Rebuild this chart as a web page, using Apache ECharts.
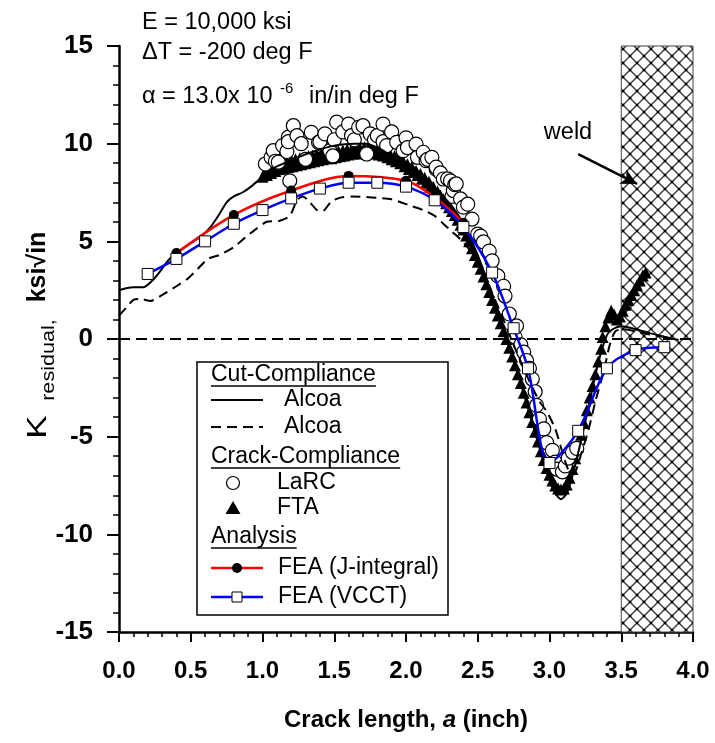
<!DOCTYPE html>
<html>
<head>
<meta charset="utf-8">
<script src="https://cdn.jsdelivr.net/npm/echarts@6/dist/echarts.min.js"></script>
<style>
  html, body { margin: 0; padding: 0; background: #fff; }
  #chart { width: 715px; height: 743px; }
</style>
</head>
<body>
<div id="chart"></div>
<script>
// Residual stress intensity factor vs crack length

// Cut-compliance (Alcoa), solid curve [a, K]
const alcoaSolid = [
  [0.00, 2.50], [0.05, 2.60], [0.10, 2.65], [0.17, 2.65], [0.22, 2.90], [0.28, 3.40],
  [0.34, 4.00], [0.40, 4.40], [0.46, 4.70], [0.52, 5.00], [0.58, 5.30], [0.64, 5.75],
  [0.70, 6.40], [0.75, 7.00], [0.80, 7.30], [0.86, 7.50], [0.92, 7.80], [1.00, 8.30],
  [1.09, 8.80], [1.20, 9.15], [1.30, 9.45], [1.40, 9.70], [1.50, 9.90], [1.64, 10.0],
  [1.72, 10.0], [1.83, 9.70], [1.90, 9.35], [2.00, 9.05], [2.08, 8.60], [2.18, 7.90],
  [2.26, 7.30], [2.32, 6.80], [2.40, 5.90], [2.50, 4.30], [2.60, 2.20], [2.70, 0.00],
  [2.80, -2.30], [2.90, -4.80], [2.98, -6.80], [3.04, -7.90], [3.08, -8.20], [3.12, -7.90],
  [3.16, -7.00], [3.22, -5.20], [3.28, -3.20], [3.34, -1.20], [3.40, 0.20], [3.44, 0.50],
  [3.50, 0.65], [3.60, 0.50], [3.70, 0.30], [3.80, 0.12], [3.90, -0.05]
];

// Cut-compliance (Alcoa), dashed curve [a, K]
const alcoaDashed = [
  [0.00, 1.20], [0.05, 1.60], [0.10, 2.00], [0.15, 2.05], [0.22, 1.95], [0.30, 2.25],
  [0.40, 2.70], [0.48, 3.10], [0.55, 3.60], [0.62, 4.10], [0.70, 4.30], [0.80, 4.70],
  [0.88, 5.20], [0.95, 5.60], [1.03, 6.00], [1.12, 6.05], [1.19, 6.30], [1.24, 7.10],
  [1.28, 7.30], [1.33, 7.00], [1.38, 6.60], [1.42, 6.55], [1.48, 7.05], [1.55, 7.25],
  [1.62, 7.30], [1.76, 7.25], [1.90, 7.15], [2.04, 6.80], [2.12, 6.60], [2.20, 6.30],
  [2.26, 5.90], [2.32, 5.50], [2.38, 5.10], [2.46, 4.40], [2.55, 3.20], [2.65, 1.50],
  [2.75, -0.30], [2.85, -2.00], [2.93, -3.20], [2.98, -3.70], [3.04, -4.60], [3.09, -5.80],
  [3.12, -6.50], [3.15, -6.90], [3.18, -6.80], [3.22, -5.90], [3.27, -4.70], [3.32, -3.20],
  [3.38, -1.60], [3.42, -0.30], [3.46, 0.40], [3.52, 0.50], [3.62, 0.35], [3.72, 0.20],
  [3.85, 0.05]
];

// Crack-compliance (LaRC), open circles [a, K]
const larc = [
  [1.02, 8.96], [1.06, 9.30], [1.075, 9.64], [1.09, 9.10], [1.11, 9.05], [1.14, 9.90],
  [1.17, 9.60], [1.18, 10.33], [1.18, 10.10], [1.19, 8.10], [1.215, 10.92], [1.24, 10.41],
  [1.27, 10.00], [1.30, 9.20], [1.34, 10.58], [1.39, 10.07], [1.40, 10.10], [1.435, 10.50],
  [1.47, 9.64], [1.49, 9.37], [1.50, 10.20], [1.517, 11.10], [1.56, 10.60], [1.60, 11.00],
  [1.62, 10.41], [1.64, 10.20], [1.67, 10.84], [1.70, 10.92], [1.726, 9.47], [1.75, 10.50],
  [1.78, 10.20], [1.80, 10.41], [1.84, 11.00], [1.84, 10.10], [1.865, 9.90], [1.90, 10.60],
  [1.935, 10.07], [1.98, 9.64], [2.00, 10.30], [2.01, 9.80], [2.07, 9.98], [2.08, 9.30],
  [2.12, 9.56], [2.14, 9.13], [2.15, 9.20], [2.18, 9.30], [2.21, 8.70], [2.21, 8.80],
  [2.24, 8.50], [2.26, 8.19], [2.29, 8.20], [2.31, 8.10], [2.32, 7.30], [2.33, 7.60],
  [2.34, 7.90], [2.35, 7.94], [2.38, 7.17], [2.40, 6.75], [2.43, 6.90], [2.46, 6.14],
  [2.50, 5.37], [2.52, 5.27], [2.54, 4.97], [2.58, 4.50], [2.60, 4.00], [2.64, 3.23],
  [2.68, 2.70], [2.69, 2.20], [2.72, 1.28], [2.76, 0.10], [2.77, 0.67], [2.80, -0.30],
  [2.82, -0.67], [2.84, -1.10], [2.86, -1.50], [2.88, -2.05], [2.90, -2.70], [2.91, -3.40],
  [2.93, -4.10], [2.96, -4.60], [2.98, -5.30], [3.02, -5.70], [3.04, -6.30], [3.05, -6.66],
  [3.09, -6.80], [3.11, -6.50], [3.13, -6.10], [3.16, -5.80], [3.19, -5.60]
];

// Crack-compliance (FTA), filled triangles [a, K]
const fta = [
  [1.00, 8.30], [1.02, 8.55], [1.03, 8.40], [1.05, 8.75], [1.06, 8.50], [1.08, 8.90],
  [1.09, 8.60], [1.11, 9.00], [1.12, 8.70], [1.14, 9.05], [1.15, 8.75], [1.17, 9.10],
  [1.18, 8.80], [1.20, 9.15], [1.21, 8.85], [1.23, 9.20], [1.24, 8.90], [1.26, 9.25],
  [1.27, 8.95], [1.29, 9.30], [1.30, 9.00], [1.32, 9.35], [1.33, 9.05], [1.35, 9.40],
  [1.36, 9.10], [1.38, 9.45], [1.39, 9.15], [1.41, 9.50], [1.42, 9.20], [1.44, 9.50],
  [1.45, 9.25], [1.47, 9.55], [1.48, 9.25], [1.50, 9.60], [1.51, 9.30], [1.53, 9.60],
  [1.54, 9.35], [1.56, 9.65], [1.57, 9.40], [1.59, 9.70], [1.60, 9.45], [1.62, 9.70],
  [1.63, 9.50], [1.65, 9.75], [1.66, 9.50], [1.68, 9.75], [1.69, 9.55], [1.71, 9.80],
  [1.72, 9.55], [1.74, 9.80], [1.75, 9.55], [1.77, 9.75], [1.78, 9.50], [1.80, 9.70],
  [1.81, 9.45], [1.83, 9.65], [1.84, 9.40], [1.86, 9.55], [1.87, 9.30], [1.89, 9.45],
  [1.90, 9.20], [1.92, 9.35], [1.93, 9.10], [1.95, 9.25], [1.96, 9.00], [1.98, 9.10],
  [1.99, 8.85], [2.01, 8.95], [2.02, 8.70], [2.04, 8.80], [2.05, 8.55], [2.07, 8.60],
  [2.08, 8.40], [2.10, 8.45], [2.11, 8.20], [2.13, 8.25], [2.14, 8.00], [2.16, 8.05],
  [2.17, 7.80], [2.19, 7.80], [2.20, 7.60], [2.22, 7.55], [2.24, 7.35], [2.26, 7.15],
  [2.28, 6.95], [2.30, 6.75], [2.32, 6.55], [2.34, 6.35], [2.36, 6.10], [2.38, 5.85],
  [2.40, 5.60], [2.42, 5.30], [2.44, 5.00], [2.46, 4.65], [2.48, 4.30], [2.50, 3.95],
  [2.52, 3.60], [2.54, 3.20], [2.56, 2.80], [2.58, 2.40], [2.60, 2.00], [2.62, 1.60],
  [2.64, 1.20], [2.66, 0.80], [2.68, 0.40], [2.70, 0.00], [2.72, -0.45], [2.74, -0.90],
  [2.76, -1.35], [2.78, -1.80], [2.80, -2.25], [2.82, -2.75], [2.84, -3.25], [2.86, -3.75],
  [2.88, -4.25], [2.90, -4.75], [2.92, -5.25], [2.94, -5.75], [2.96, -6.20], [2.98, -6.60],
  [3.00, -6.95], [3.02, -7.25], [3.04, -7.50], [3.06, -7.65], [3.08, -7.70], [3.10, -7.65],
  [3.12, -7.45], [3.14, -7.10], [3.16, -6.65], [3.18, -6.10], [3.20, -5.50], [3.22, -4.90],
  [3.24, -4.30], [3.26, -3.65], [3.28, -3.00], [3.30, -2.40], [3.32, -1.80], [3.34, -1.15],
  [3.36, -0.50], [3.37, 0.10], [3.39, 0.65], [3.41, 1.10], [3.43, 1.45], [3.45, 1.25],
  [3.47, 1.00], [3.49, 1.15], [3.51, 1.45], [3.53, 1.75], [3.55, 2.00], [3.57, 2.25],
  [3.59, 2.50], [3.61, 2.75], [3.63, 3.00], [3.65, 3.25], [3.67, 3.40]
];

// Analysis: FEA with J-integral [a, K]
const feaJ = [
  [0.4, 4.40], [0.8, 6.35], [1.2, 7.60], [1.6, 8.35], [2.0, 8.10], [2.2, 7.25], [2.4, 5.95]
];

// Analysis: FEA with VCCT [a, K]
const feaVCCT = [
  [0.2, 3.33], [0.4, 4.10], [0.6, 5.00], [0.8, 5.90], [1.0, 6.60], [1.2, 7.20],
  [1.4, 7.70], [1.6, 8.00], [1.8, 8.00], [2.0, 7.80], [2.2, 7.10], [2.4, 5.73],
  [2.6, 3.40], [2.75, 0.55], [2.85, -1.50], [3.0, -6.35], [3.2, -4.70], [3.4, -1.50],
  [3.6, -0.57], [3.8, -0.42]
];

// Weld zone extent along the crack path (inch)
const weldZone = [3.5, 4.0];

// Annotation text
const materialNotes = ['E = 10,000 ksi', '\u0394T = -200 deg F'];
const cteNote = ['\u03b1 = 13.0x 10', '-6', 'in/in deg F'];

const FONT = 'Arial, "Liberation Sans", Helvetica, sans-serif';

function hatchPattern() {
  const s = 14;
  const c = document.createElement('canvas');
  c.width = s; c.height = s;
  const g = c.getContext('2d');
  g.fillStyle = '#fff';
  g.fillRect(0, 0, s, s);
  g.strokeStyle = '#3a3a3a';
  g.lineWidth = 1.4;
  g.beginPath();
  g.moveTo(0, 0); g.lineTo(s, s);
  g.moveTo(s, 0); g.lineTo(0, s);
  g.stroke();
  g.fillStyle = '#000';
  g.fillRect(s / 2 - 1.2, s / 2 - 1.2, 2.4, 2.4);
  g.fillRect(-1.2, -1.2, 2.4, 2.4); g.fillRect(s - 1.2, -1.2, 2.4, 2.4);
  g.fillRect(-1.2, s - 1.2, 2.4, 2.4); g.fillRect(s - 1.2, s - 1.2, 2.4, 2.4);
  return c;
}

function textWidth(str, font) {
  const c = document.createElement('canvas').getContext('2d');
  c.font = font;
  return c.measureText(str).width;
}

const chart = echarts.init(document.getElementById('chart'), null, { renderer: 'canvas' });

// Legend panel built from graphic primitives
const LG = { x: 197, y: 362, w: 251, h: 253, lineX0: 211, lineX1: 263, font: '23px ' + FONT };
function header(text, cy) {
  const w = textWidth(text, LG.font);
  return [
    { type: 'text', x: LG.lineX0, y: cy, style: { text: text, font: LG.font, fill: '#000', align: 'left', verticalAlign: 'middle' } },
    { type: 'line', shape: { x1: LG.lineX0, y1: cy + 11, x2: LG.lineX0 + w, y2: cy + 11 }, style: { stroke: '#000', lineWidth: 1.3 } }
  ];
}
function label(text, x, cy) {
  return { type: 'text', x: x, y: cy, style: { text: text, font: LG.font, fill: '#000', align: 'left', verticalAlign: 'middle' } };
}
const legendEls = [
  { type: 'rect', shape: { x: LG.x, y: LG.y, width: LG.w, height: LG.h }, style: { fill: '#fff', stroke: '#000', lineWidth: 1.5 } },
  ...header('Cut-Compliance', 375),
  { type: 'line', shape: { x1: LG.lineX0, y1: 400, x2: LG.lineX1, y2: 400 }, style: { stroke: '#000', lineWidth: 2 } },
  label('Alcoa', 284, 400),
  { type: 'line', shape: { x1: LG.lineX0, y1: 427, x2: LG.lineX1, y2: 427 }, style: { stroke: '#000', lineWidth: 2, lineDash: [10, 6] } },
  label('Alcoa', 284, 427),
  ...header('Crack-Compliance', 457),
  { type: 'circle', shape: { cx: 233, cy: 483, r: 6.5 }, style: { fill: '#fff', stroke: '#000', lineWidth: 1.2 } },
  label('LaRC', 277, 483),
  { type: 'polygon', shape: { points: [[233, 501], [240.5, 514], [225.5, 514]] }, style: { fill: '#000' } },
  label('FTA', 277, 508),
  ...header('Analysis', 537),
  { type: 'line', shape: { x1: LG.lineX0, y1: 568, x2: LG.lineX1, y2: 568 }, style: { stroke: '#ff0000', lineWidth: 2.5 } },
  { type: 'circle', shape: { cx: 237, cy: 568, r: 5 }, style: { fill: '#000' } },
  label('FEA (J-integral)', 278, 568),
  { type: 'line', shape: { x1: LG.lineX0, y1: 597, x2: LG.lineX1, y2: 597 }, style: { stroke: '#0000ff', lineWidth: 2.5 } },
  { type: 'rect', shape: { x: 232, y: 592, width: 10, height: 10 }, style: { fill: '#fff', stroke: '#000', lineWidth: 1 } },
  label('FEA (VCCT)', 278, 597)
];

const noteFont = '23.5px ' + FONT;
const noteEls = [
  { type: 'text', x: 142, y: 23, style: { text: materialNotes[0], font: noteFont, fill: '#000', verticalAlign: 'middle' } },
  { type: 'text', x: 142, y: 53, style: { text: materialNotes[1], font: noteFont, fill: '#000', verticalAlign: 'middle' } },
  { type: 'text', x: 142, y: 97, style: { text: cteNote[0], font: noteFont, fill: '#000', verticalAlign: 'middle' } },
  { type: 'text', x: 280, y: 89, style: { text: cteNote[1], font: '15px ' + FONT, fill: '#000', verticalAlign: 'middle' } },
  { type: 'text', x: 309, y: 97, style: { text: cteNote[2], font: noteFont, fill: '#000', verticalAlign: 'middle' } },
  { type: 'text', x: 568, y: 133, style: { text: 'weld', font: noteFont, fill: '#000', align: 'center', verticalAlign: 'middle' } }
];

// Vertical axis title: K with subscript, then units
const yTitleEls = [
  { type: 'text', x: 38, y: 427, rotation: Math.PI / 2, scaleX: 1.25,
    style: { text: 'K', font: '28px ' + FONT, fill: '#000', align: 'center', verticalAlign: 'middle' } },
  { type: 'text', x: 49, y: 360, rotation: Math.PI / 2, scaleX: 1.2,
    style: { text: 'residual,', font: '18px ' + FONT, fill: '#000', align: 'center', verticalAlign: 'middle' } },
  { type: 'text', x: 38, y: 267, rotation: Math.PI / 2,
    style: { text: 'ksi\u221ain', font: 'bold 25px ' + FONT, fill: '#000', align: 'center', verticalAlign: 'middle' } }
];

const option = {
  animation: false,
  backgroundColor: '#fff',
  grid: { left: 119, right: 22, top: 46, bottom: 111, containLabel: false },
  xAxis: {
    type: 'value', min: 0, max: 4, interval: 0.5,
    axisLine: { show: true, onZero: false, lineStyle: { color: '#000', width: 2.5 } },
    axisTick: { show: true, inside: false, length: 10, lineStyle: { color: '#000', width: 2 } },
    minorTick: { show: true, splitNumber: 5, length: 5, lineStyle: { color: '#000', width: 1.5 } },
    splitLine: { show: false },
    axisLabel: { color: '#000', fontFamily: FONT, fontWeight: 'bold', fontSize: 24, margin: 27,
      formatter: v => v.toFixed(1) },
    name: '{b|Crack length, }{i|a}{b| (inch)}',
    nameLocation: 'middle', nameGap: 76,
    nameTextStyle: { rich: {
      b: { fontFamily: FONT, fontWeight: 'bold', fontSize: 24, color: '#000' },
      i: { fontFamily: FONT, fontWeight: 'bold', fontStyle: 'italic', fontSize: 24, color: '#000' }
    } }
  },
  yAxis: {
    type: 'value', min: -15, max: 15, interval: 5,
    axisLine: { show: true, onZero: false, lineStyle: { color: '#000', width: 2.5 } },
    axisTick: { show: true, inside: false, length: 12, lineStyle: { color: '#000', width: 2 } },
    minorTick: { show: true, splitNumber: 5, length: 6, lineStyle: { color: '#000', width: 1.5 } },
    splitLine: { show: false },
    axisLabel: { color: '#000', fontFamily: FONT, fontWeight: 'bold', fontSize: 26, margin: 26 }
  },
  graphic: [...noteEls, ...yTitleEls, ...legendEls],
  series: [
    {
      name: 'weld', type: 'line', z: 1, data: [[weldZone[0], 0]], symbol: 'none',
      lineStyle: { opacity: 0 }, silent: true,
      markArea: {
        silent: true,
        itemStyle: { color: { image: hatchPattern(), repeat: 'repeat' }, borderColor: '#444', borderWidth: 1 },
        data: [[{ xAxis: weldZone[0], yAxis: 15 }, { xAxis: weldZone[1], yAxis: -15 }]]
      },
      markLine: {
        silent: true, symbol: ['none', 'arrow'], symbolSize: [12, 16],
        lineStyle: { color: '#000', width: 2.5, type: 'solid' },
        label: { show: false },
        data: [[{ coord: [3.2, 9.47] }, { coord: [3.61, 7.94] }]]
      }
    },
    {
      name: 'FTA', type: 'scatter', z: 3, data: fta, symbol: 'triangle', symbolSize: [12, 12],
      itemStyle: { color: '#000', opacity: 1 }
    },
    {
      name: 'LaRC', type: 'scatter', z: 4, data: larc, symbol: 'circle', symbolSize: 14,
      itemStyle: { color: '#fff', borderColor: '#000', borderWidth: 1.2, opacity: 1 }
    },
    {
      name: 'Alcoa (solid)', type: 'line', z: 5, data: alcoaSolid, symbol: 'none', smooth: 0.25,
      lineStyle: { color: '#000', width: 2 }
    },
    {
      name: 'Alcoa (dashed)', type: 'line', z: 5, data: alcoaDashed, symbol: 'none', smooth: 0.25,
      lineStyle: { color: '#000', width: 2, type: [10, 6] },
      markLine: {
        silent: true, symbol: 'none', label: { show: false },
        lineStyle: { color: '#000', width: 2, type: [11, 6] },
        data: [{ yAxis: 0 }]
      }
    },
    {
      name: 'FEA (J-integral)', type: 'line', z: 6, data: feaJ, smooth: 0.3,
      symbol: 'circle', symbolSize: 10,
      lineStyle: { color: '#ff0000', width: 2.5 },
      itemStyle: { color: '#000' }
    },
    {
      name: 'FEA (VCCT)', type: 'line', z: 7, data: feaVCCT, smooth: 0.3,
      symbol: 'rect', symbolSize: 11,
      lineStyle: { color: '#0000ff', width: 2.5 },
      itemStyle: { color: '#fff', borderColor: '#000', borderWidth: 1 }
    }
  ]
};

chart.setOption(option);
</script>
</body>
</html>
